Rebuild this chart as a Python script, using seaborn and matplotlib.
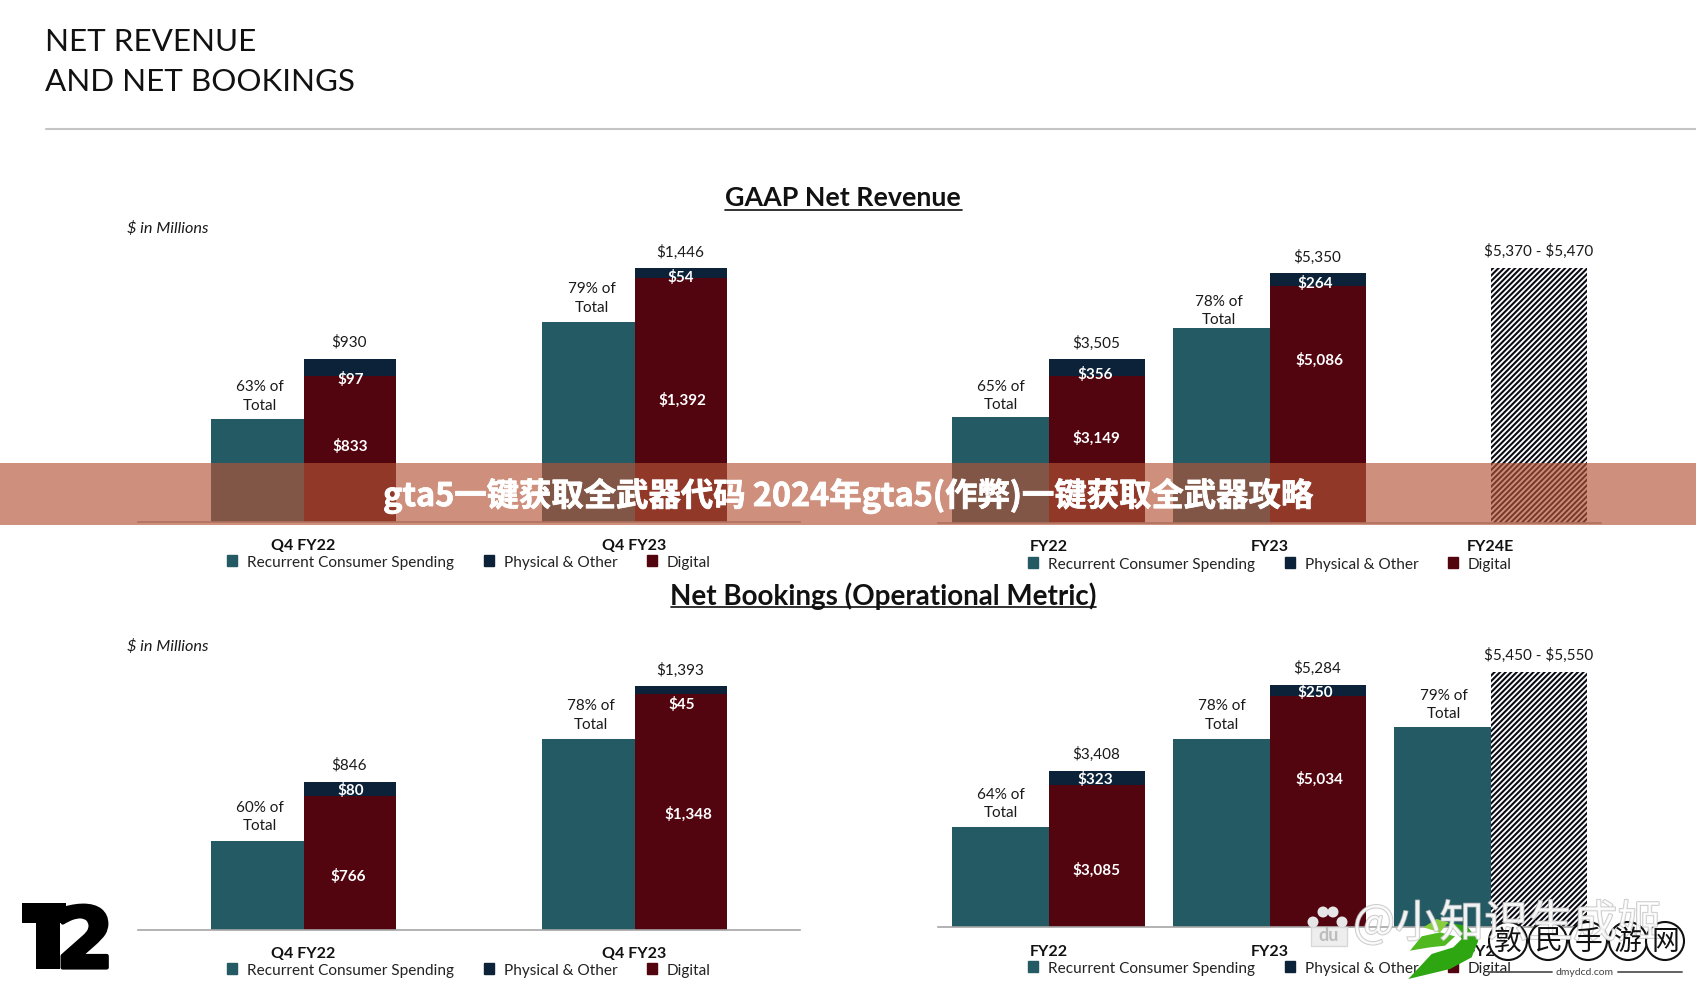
import matplotlib
matplotlib.use("Agg")
import matplotlib.pyplot as plt
import matplotlib.patheffects as pe
from matplotlib.patches import Circle, Patch, Rectangle
import numpy as np
import pandas as pd
import seaborn as sns

W, H = 1696, 987
TEAL, NAVY, MAROON = "#245a64", "#0c2238", "#52040f"

# values, $ in millions
q_periods = ["Q4 FY22", "Q4 FY23"]
fy_periods = ["FY22", "FY23", "FY24E"]

rev_q_recurrent = [586, 1138]
rev_q_digital = [833, 1392]
rev_q_physical = [97, 54]
rev_fy_recurrent = [2263, 4181, np.nan]
rev_fy_digital = [3149, 5086, np.nan]
rev_fy_physical = [356, 264, np.nan]
rev_fy_guidance = [np.nan, np.nan, 5470]

book_q_recurrent = [507, 1088]
book_q_digital = [766, 1348]
book_q_physical = [80, 45]
book_fy_recurrent = [2180, 4094, 4357]
book_fy_digital = [3085, 5034, np.nan]
book_fy_physical = [323, 250, np.nan]
book_fy_guidance = [np.nan, np.nan, 5550]

legend_labels = ["Recurrent Consumer Spending", "Physical & Other", "Digital"]

sns.set_theme(style="white")
plt.rcParams["font.family"] = ["Lato", "DejaVu Sans"]
plt.rcParams["hatch.linewidth"] = 1.5


def slot_frame(periods, left, right):
    return pd.DataFrame({
        "period": periods * 2,
        "slot": ["left"] * len(periods) + ["right"] * len(periods),
        "value": list(left) + list(right),
    })


def draw_panel(fig, rect, ymax, periods, recurrent, digital, physical, bar_width, guidance=None):
    x0, x1, base = rect
    ax = fig.add_axes([x0 / W, 1 - base / H, (x1 - x0) / W, 280 / H])
    totals = [d + p for d, p in zip(digital, physical)]
    shared = dict(x="period", y="value", hue="slot", order=periods, hue_order=["left", "right"],
                  width=bar_width, gap=0, errorbar=None, legend=False, linewidth=0, saturation=1, ax=ax)
    sns.barplot(slot_frame(periods, recurrent, totals), palette=[TEAL, NAVY], **shared)
    sns.barplot(slot_frame(periods, recurrent, digital), palette=[TEAL, MAROON], **shared)
    if guidance is not None:
        sns.barplot(slot_frame(periods, [np.nan] * len(periods), guidance), palette=["white", "white"],
                    hatch="//////", edgecolor="#0a0a14", **shared)
    ax.set_xlim(-0.5, len(periods) - 0.5)
    ax.set_ylim(0, ymax)
    ax.set(xlabel="", ylabel="", yticks=[])
    ax.tick_params(axis="x", length=0, pad=12)
    for lab in ax.get_xticklabels():
        lab.set_fontweight("bold")
        lab.set_fontsize(11.5)
        lab.set_color("#111111")
    sns.despine(ax=ax, left=True)
    ax.spines["bottom"].set_color("#a6a6a6")
    ax.spines["bottom"].set_linewidth(1.2)
    ax.patch.set_alpha(0)
    return ax


def add_legend(ax, centre_x, y):
    handles = [Patch(color=c) for c in [TEAL, NAVY, MAROON]]
    ax.legend(handles, legend_labels, ncol=3, frameon=False, fontsize=11.1,
              loc="center", bbox_to_anchor=(centre_x / W, 1 - y / H), bbox_transform=ax.figure.transFigure,
              handlelength=0.65, handleheight=0.72, handletextpad=0.62, columnspacing=1.95,
              labelcolor="#222222", borderpad=0, borderaxespad=0)


fig = plt.figure(figsize=(W / 100, H / 100), dpi=100, facecolor="white")

ax_rq = draw_panel(fig, (138, 800, 522.5), 1600, q_periods, rev_q_recurrent, rev_q_digital, rev_q_physical, 0.559)
ax_rf = draw_panel(fig, (938, 1601, 523.5), 6009, fy_periods, rev_fy_recurrent, rev_fy_digital, rev_fy_physical,
                   0.87, rev_fy_guidance)
ax_bq = draw_panel(fig, (138, 800, 930.5), 1603, q_periods, book_q_recurrent, book_q_digital, book_q_physical, 0.559)
ax_bf = draw_panel(fig, (938, 1601, 928), 6104, fy_periods, book_fy_recurrent, book_fy_digital, book_fy_physical,
                   0.87, book_fy_guidance)

add_legend(ax_rq, 469, 563)
add_legend(ax_rf, 1270, 565)
add_legend(ax_bq, 469, 971)
add_legend(ax_bf, 1270, 969)

# overlay in reference pixels for the slide text and decorations
over = fig.add_axes([0, 0, 1, 1], zorder=5)
over.set_xlim(0, W)
over.set_ylim(H - 2, -2)
over.axis("off")


def put(x, y, s, size=10.5, color="#1a1a1a", **kw):
    over.text(x, y, s, fontsize=size, color=color, ha=kw.pop("ha", "center"), va="center", **kw)


put(45, 40, "NET REVENUE", 22.6, "#111111", ha="left")
put(45, 80, "AND NET BOOKINGS", 22.6, "#111111", ha="left")
over.plot([46, W], [128, 128], color="#c4c4c4", lw=1.5)

put(843, 196, "GAAP Net Revenue", 19.3, "#111111", fontweight="bold")
over.plot([725, 962], [209, 209], color="#111111", lw=1.2)
put(883, 594, "Net Bookings (Operational Metric)", 20, "#111111", fontweight="bold")
over.plot([671, 1096], [606, 606], color="#111111", lw=1.2)

put(168, 226.5, "$ in Millions", 11.7, fontstyle="italic")
put(168, 645, "$ in Millions", 11.7, fontstyle="italic")

# totals, segment labels and share labels
black_labels = [
    (348.5, 340.6, f"${rev_q_digital[0] + rev_q_physical[0]:,}"),
    (680, 250.7, f"${rev_q_digital[1] + rev_q_physical[1]:,}"),
    (1096, 341, f"${rev_fy_digital[0] + rev_fy_physical[0]:,}"),
    (1317, 255, f"${rev_fy_digital[1] + rev_fy_physical[1]:,}"),
    (1538.6, 249, r"\$5,370 - \$5,470"),
    (348.5, 763, f"${book_q_digital[0] + book_q_physical[0]:,}"),
    (680, 668, f"${book_q_digital[1] + book_q_physical[1]:,}"),
    (1096, 752, f"${book_fy_digital[0] + book_fy_physical[0]:,}"),
    (1317, 666.7, f"${book_fy_digital[1] + book_fy_physical[1]:,}"),
    (1538.6, 653, r"\$5,450 - \$5,550"),
    (259.6, 394.7, "63% of\nTotal"),
    (592, 296.6, "79% of\nTotal"),
    (1000.6, 394, "65% of\nTotal"),
    (1218.6, 309, "78% of\nTotal"),
    (259.6, 815, "60% of\nTotal"),
    (590.8, 713.3, "78% of\nTotal"),
    (1000.6, 802, "64% of\nTotal"),
    (1221.8, 713.5, "78% of\nTotal"),
    (1443.6, 703, "79% of\nTotal"),
]
for x, y, s in black_labels:
    put(x, y, s, 11, linespacing=1.45)

white_labels = [
    (350.7, 377.7, rev_q_physical[0]), (350.7, 444.7, rev_q_digital[0]),
    (681, 275.5, rev_q_physical[1]), (682.4, 398, rev_q_digital[1]),
    (1095, 372.7, rev_fy_physical[0]), (1096, 436, rev_fy_digital[0]),
    (1315.7, 282, rev_fy_physical[1]), (1319, 358, rev_fy_digital[1]),
    (350.7, 789, book_q_physical[0]), (348.5, 875, book_q_digital[0]),
    (682, 702.7, book_q_physical[1]), (688, 812, book_q_digital[1]),
    (1095, 777.7, book_fy_physical[0]), (1096, 868, book_fy_digital[0]),
    (1315, 690.7, book_fy_physical[1]), (1319, 777, book_fy_digital[1]),
]
for x, y, v in white_labels:
    put(x, y, f"${v:,}", 11, "white", fontweight="bold")

# T2 logo
over.add_patch(Rectangle((22, 902), 44, 20, color="black", lw=0))
over.add_patch(Rectangle((36, 902), 24, 66, color="black", lw=0))
over.text(85, 943, "2", fontsize=60, fontweight="bold", color="black", ha="center", va="center",
          family=["DejaVu Sans"], path_effects=[pe.withStroke(linewidth=3, foreground="black")])

# article banner across the slide
over.add_patch(Rectangle((0, 462), W, 62, color="#b45536", alpha=0.65, lw=0))
over.text(848, 494.5, "gta5一键获取全武器代码 2024年gta5(作弊)一键获取全武器攻略", fontsize=23.3, fontweight="bold",
          color="white", ha="center", va="center", family=["Noto Sans CJK SC", "DejaVu Sans"],
          path_effects=[pe.withStroke(linewidth=0.6, foreground="white")])

# watermarks
for cx, cy, r in [(1313, 921, 5.5), (1323, 911, 5.5), (1333, 911, 5.5), (1342, 921, 5.5)]:
    over.add_patch(Circle((cx, cy), r, color="#e6e6e6", lw=0))
over.add_patch(Rectangle((1311, 926), 36, 19, fc="#eeeeee", ec="#d8d8d8", lw=1))
over.text(1329, 934, "du", fontsize=13, fontweight="bold", color="#bdbdbd", ha="center", va="center")
over.text(1353, 923, "@小知识生成姬", fontsize=32, color="white", alpha=0.75, ha="left", va="center",
          family=["Noto Sans CJK SC", "DejaVu Sans"],
          path_effects=[pe.withStroke(linewidth=1.2, foreground="#b8b8b8")])


def logo_poly(points, color):
    over.fill([1290 + p[0] / 3 for p in points], [878 + p[1] / 3 for p in points], color=color, lw=0)


logo_poly([(465, 130), (530, 140), (565, 185), (545, 235), (480, 270), (355, 300), (425, 225),
           (490, 205), (515, 180), (500, 150)], "#2ea612")
logo_poly([(360, 215), (395, 172), (450, 160), (495, 172), (465, 200), (420, 205)], "#4fb81f")
logo_poly([(400, 145), (440, 120), (475, 130), (450, 160)], "#86cf3a")

for cx, ch in zip([1508, 1548, 1588, 1628, 1665], "敦民手游网"):
    over.add_patch(Circle((cx, 940), 19, fc="white", ec="#111111", lw=1.5))
    over.text(cx, 940, ch, fontsize=20, color="#111111", ha="center", va="center",
              family=["Noto Sans CJK SC", "DejaVu Sans"])
over.plot([1490, 1552], [971, 971], color="#555555", lw=1.3)
over.plot([1618, 1682], [971, 971], color="#555555", lw=1.3)
put(1585, 971, "dmydcd.com", 7.5, "#444444")

fig.savefig("out.png", dpi=100)
